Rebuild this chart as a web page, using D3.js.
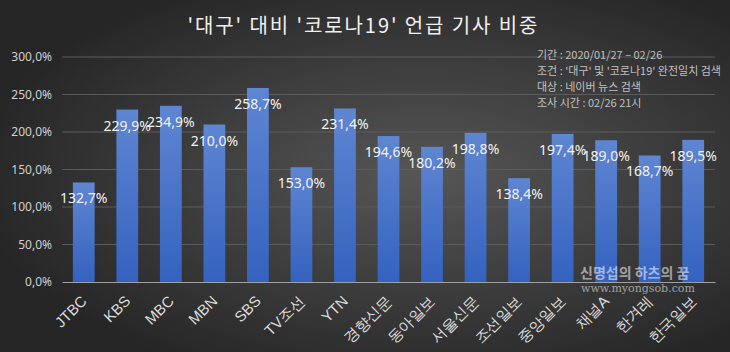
<!DOCTYPE html>
<html><head><meta charset="utf-8">
<script src="https://cdn.jsdelivr.net/npm/d3@7/dist/d3.min.js"></script>
<style>
html,body{margin:0;padding:0;background:#2b2b2b;}
svg{display:block;font-family:"Noto Sans CJK KR","Noto Sans",sans-serif;}
</style></head><body>
<script>
const categories = ["JTBC","KBS","MBC","MBN","SBS","TV조선","YTN","경향신문","동아일보","서울신문","조선일보","중앙일보","채널A","한겨레","한국일보"];
const values = [132.7,229.9,234.9,210.0,258.7,153.0,231.4,194.6,180.2,198.8,138.4,197.4,189.0,168.7,189.5];
const yTicks = [0,50,100,150,200,250,300];
const titleText = "'대구' 대비 '코로나19' 언급 기사 비중";
const noteLines = ["기간 : 2020/01/27 – 02/26","조건 : '대구' 및 '코로나19' 완전일치 검색","대상 : 네이버 뉴스 검색","조사 시간 : 02/26 21시"];

const W=730,H=352;
const svg=d3.select("body").append("svg").attr("width",W).attr("height",H);
const defs=svg.append("defs");
const bg=defs.append("radialGradient").attr("id","bg").attr("cx","58%").attr("cy","50%").attr("r","62%")
  .attr("gradientUnits","objectBoundingBox");
bg.append("stop").attr("offset","0%").attr("stop-color","#565656");
bg.append("stop").attr("offset","100%").attr("stop-color","#262626");
const bar=defs.append("linearGradient").attr("id","bar").attr("x1",0).attr("y1",0).attr("x2",0).attr("y2",1);
bar.append("stop").attr("offset","0%").attr("stop-color","#5f86d2");
bar.append("stop").attr("offset","100%").attr("stop-color","#3462bf");

svg.append("rect").attr("width",W).attr("height",H).attr("fill","url(#bg)");

const x=d3.scaleBand().domain(categories).range([62,715]).paddingInner(0.5).paddingOuter(0.25);
const y=d3.scaleLinear().domain([0,300]).range([282,57]);

// gridlines
svg.append("g").selectAll("line").data(yTicks.slice(1)).join("line")
  .attr("x1",62).attr("x2",715).attr("y1",d=>y(d)).attr("y2",d=>y(d))
  .attr("stroke","#5c5c5c").attr("stroke-width",1);

// y axis
const fmt=d=>d.toFixed(1).replace(".",",")+"%";
const yAxis=d3.axisLeft(y).tickValues(yTicks).tickFormat(fmt).tickSize(0).tickPadding(10);
const yg=svg.append("g").attr("transform","translate(62,0)").call(yAxis);
yg.select(".domain").remove();
yg.selectAll("text").attr("fill","#d0d0d0").style("font-size","12px").style("font-family","'Noto Sans',sans-serif");

// bars
svg.append("g").selectAll("rect").data(values).join("rect")
  .attr("x",(d,i)=>x(categories[i])).attr("width",x.bandwidth())
  .attr("y",d=>y(d)).attr("height",d=>y(0)-y(d)).attr("fill","url(#bar)");

// x axis
const xAxis=d3.axisBottom(x).tickSize(0).tickPadding(0);
const xg=svg.append("g").attr("transform","translate(0,282)").call(xAxis);
xg.select(".domain").attr("stroke","#a0a0a0").attr("stroke-width",1.2);
xg.selectAll(".tick text").attr("fill","#dcdcdc").style("font-size","15px")
  .attr("text-anchor","end").attr("dy",0).attr("y",0)
  .attr("transform","translate(4,20) rotate(-45)");

// labels
svg.append("g").selectAll("text").data(values).join("text")
  .attr("x",(d,i)=>x(categories[i])+x.bandwidth()/2).attr("y",d=>y(d)+21)
  .attr("text-anchor","middle").attr("fill","#f2f2f2").style("font-size","14px")
  .style("font-family","'Noto Sans',sans-serif")
  .text(d=>fmt(d));

// title
svg.append("text").attr("x",362.5).attr("y",33).attr("text-anchor","middle")
  .attr("fill","#f0f0f0").style("font-size","20px")
  .attr("textLength",350).attr("lengthAdjust","spacing").text(titleText);

// note
svg.append("g").selectAll("text").data(noteLines).join("text")
  .attr("x",537).attr("y",(d,i)=>59+i*16).attr("fill","#c0c0c0").style("font-size","11px").text(d=>d);

// watermark
svg.append("text").attr("x",580).attr("y",278).attr("fill","#ffffff").attr("fill-opacity",0.55)
  .style("font-size","14px").style("font-weight","bold").text("신명섭의 하츠의 꿈");
svg.append("text").attr("x",581).attr("y",292).attr("fill","#ffffff").attr("fill-opacity",0.55)
  .style("font-size","11px").style("font-family","'DejaVu Serif',serif").text("www.myongsob.com");
</script>
</body></html>
